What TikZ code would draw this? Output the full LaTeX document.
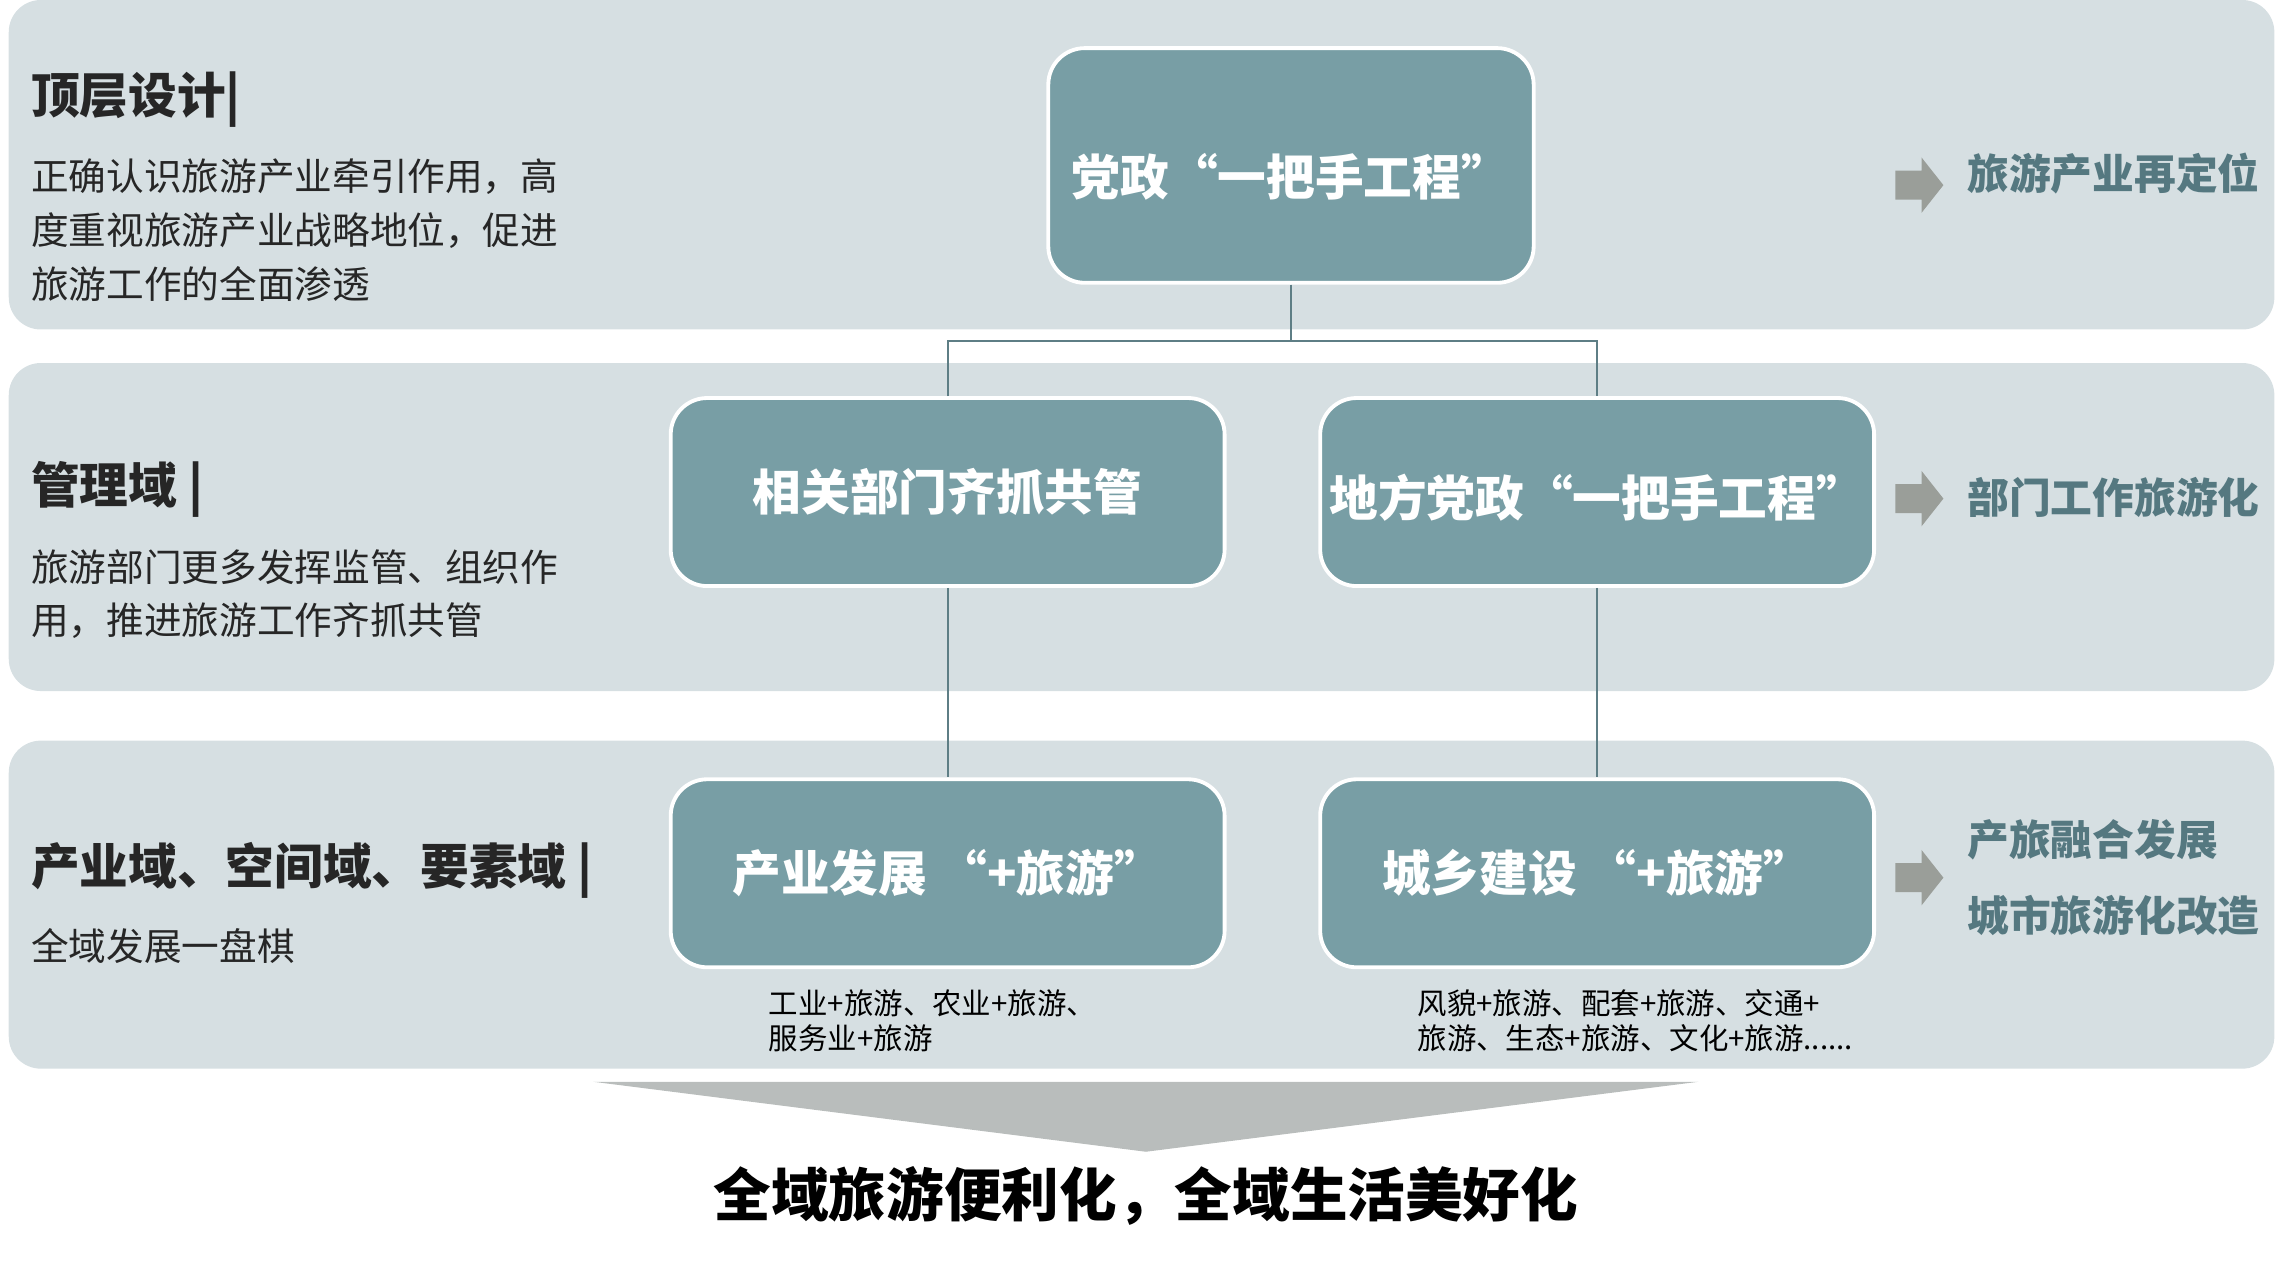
\documentclass[tikz,border=0pt]{standalone}
\usepackage{fontspec}
\setmainfont{Noto Sans CJK SC}
\newfontfamily\heavyfont{Noto Sans CJK SC Black}
\usetikzlibrary{positioning}
\definecolor{cband}{HTML}{D6DFE2}
\definecolor{cbox}{HTML}{789EA5}
\definecolor{clink}{HTML}{5E7E85}
\definecolor{carrow}{HTML}{9A9E99}
\definecolor{cresult}{HTML}{557880}
\definecolor{cfunnel}{HTML}{B9BDBC}
\definecolor{ctext}{HTML}{262626}
\tikzset{
  every picture/.style={x=0.02cm, y=-0.02cm},
  band/.style={fill=cband, rounded corners=0.44cm},
  box/.style={draw=white, line width=1.5pt, fill=cbox, rounded corners=0.5cm, text=white, inner sep=0pt,
    font=\bfseries\fontsize{19}{23}\selectfont, minimum width=7.6cm, minimum height=2.58cm},
  heading/.style={anchor=west, inner sep=0pt, text=ctext, font=\bfseries\fontsize{19}{23}\selectfont},
  desc/.style={anchor=west, inner sep=0pt, align=left, text=ctext, font=\fontsize{14.7}{21}\selectfont},
  result/.style={anchor=west, inner sep=0pt, align=left, text=cresult, font=\bfseries\fontsize{16.3}{29.5}\selectfont},
  note/.style={anchor=west, inner sep=0pt, align=left, text=black, font=\fontsize{11.5}{13.6}\selectfont},
  link/.style={draw=clink, line width=0.8pt},
  sidearrow/.style={fill=carrow},
}

\begin{document}
\begin{tikzpicture}
  \useasboundingbox (0,0) rectangle (1568,868);
  % three layers
  \fill[band] (6,0) rectangle (1560,226);
  \fill[band] (6,249) rectangle (1560,474);
  \fill[band] (6,508) rectangle (1560,733);
  % left column
  \node[heading] (h1) at (21,68) {顶层设计|};
  \node[desc] (d1) at (21,158) {正确认识旅游产业牵引作用，高\\度重视旅游产业战略地位，促进\\旅游工作的全面渗透};
  \node[heading] (h2) at (21,336) {管理域 |};
  \node[desc] (d2) at (21,407.5) {旅游部门更多发挥监管、组织作\\用，推进旅游工作齐抓共管};
  \node[heading] (h3) at (21,597) {产业域、空间域、要素域 |};
  \node[desc] (d3) at (21,649) {全域发展一盘棋};
  % boxes
  \node[box, minimum width=6.66cm, minimum height=3.22cm, text height=25pt] (top) at (885.5,113.5) {党政“一把手工程”};
  \node[box] (dept) at (650,337.5) {相关部门齐抓共管};
  \node[box, text height=21pt] (local) at (1095.5,337.5) {地方党政“一把手工程”};
  \node[box] (industry) at (650,599) {产业发展 “+旅游”};
  \node[box] (urban) at (1095.5,599) {城乡建设 “+旅游”};
  \node[note] (n1) at (527,700) {工业+旅游、农业+旅游、\\服务业+旅游};
  \node[note] (n2) at (972,700) {风貌+旅游、配套+旅游、交通+\\旅游、生态+旅游、文化+旅游......};
  % tree
  \coordinate (split) at (885.5,234);
  \draw[link] (top) -- (split);
  \draw[link] (dept) |- (split) -| (local);
  \draw[link] (dept) -- (industry);
  \draw[link] (local) -- (urban);
  % right column
  \foreach \y in {127,342,602}
    \fill[sidearrow] (1300,\y-10) -- (1318,\y-10) -- (1318,\y-19) -- (1333,\y) -- (1318,\y+19) -- (1318,\y+10) -- (1300,\y+10) -- cycle;
  \node[result] (r1) at (1349,119) {旅游产业再定位};
  \node[result] (r2) at (1349,341) {部门工作旅游化};
  \node[result] (r3) at (1349,602) {产旅融合发展\\城市旅游化改造};
  % outcome
  \fill[cfunnel] (407,742) -- (1165,742) -- (786,790) -- cycle;
  \node[inner sep=0pt, font=\heavyfont\fontsize{22.5}{26}\selectfont] (goal) at (786,820) {全域旅游便利化，全域生活美好化};
\end{tikzpicture}
\end{document}
